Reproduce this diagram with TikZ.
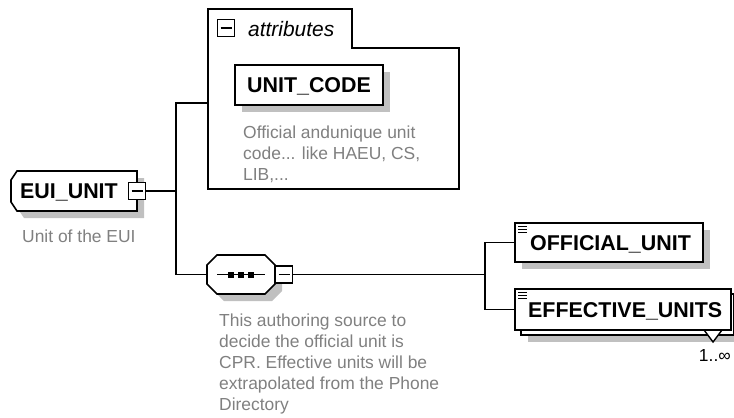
\documentclass[tikz,border=0pt]{standalone}
\usepackage{fontspec}
\setmainfont{Liberation Sans}
\usetikzlibrary{shadows}
\definecolor{shadegray}{HTML}{C0C0C0}
\definecolor{notegray}{HTML}{808080}
\begin{document}
\begin{tikzpicture}[x=1bp,y=-1bp,
  conn/.style={line width=1.6bp},
  outline/.style={draw, line width=1.6bp, fill=white},
  elembox/.style={draw, line width=1.6bp, fill=white, rectangle, inner sep=0pt},
  boxshadow/.style={drop shadow={shadow xshift=7bp, shadow yshift=-7bp, fill=shadegray, opacity=1}},
  namefont/.style={font=\bfseries\fontsize{21.5}{25}\selectfont},
  plaintext/.style={inner sep=0pt},
  notetext/.style={font=\fontsize{17.5}{21.2}\selectfont, text=notegray, align=left, inner sep=0pt},
  togglebox/.style={draw, line width=1.4bp, fill=white, minimum size=17bp, inner sep=0pt,
    path picture={\draw[line width=1.4bp] ([xshift=3bp]path picture bounding box.west) -- ([xshift=-3bp]path picture bounding box.east);}},
  listmark/.style={line width=1.2bp}
]
\useasboundingbox (0,0) rectangle (734,417);

% branch positions
\coordinate (trunk) at (176,0);
\coordinate (fork) at (485,0);

% ---- EUI_UNIT element ----
\fill[shadegray, shift={(7,7)}] (17,171) -- (137,171) -- (137,211) -- (17,211) -- (11,202) -- (11,180) -- cycle;
\draw[outline] (17,171) -- (137,171) -- (137,211) -- (17,211) -- (11,202) -- (11,180) -- cycle;
\node[plaintext, namefont, anchor=base west] (euiname) at (20,198.5) {EUI\_UNIT};
\node[togglebox] (euitog) at (137,191) {};
\node[notetext, anchor=base west] (euinote) at (22,242) {Unit of the EUI};

% ---- attributes group ----
\draw[outline] (208,48) -- (208,9) -- (352,9) -- (352,48) -- (459,48) -- (459,189) -- (208,189) -- cycle;
\coordinate (attrin) at (208,103);
\node[togglebox] (attrtog) at (226,28) {};
\node[plaintext, font=\itshape\fontsize{21}{25}\selectfont, anchor=base west] (attrtitle) at (248,36) {attributes};
\node[elembox, boxshadow, minimum width=148bp, minimum height=40bp] (unitcode) at (309,85) {};
\node[plaintext, namefont, anchor=base] (unitcodename) at (309,92.5) {UNIT\_CODE};
\node[notetext, anchor=north west] (unitcodenote) at (243,125.5)
  {Official andunique unit\\code... like HAEU, CS,\\LIB,...};

% ---- sequence compositor ----
\fill[shadegray, shift={(7,7)}] (217,255) -- (265,255) -- (275,265) -- (275,284) -- (265,294) -- (217,294) -- (207,284) -- (207,265) -- cycle;
\draw[outline] (217,255) -- (265,255) -- (275,265) -- (275,284) -- (265,294) -- (217,294) -- (207,284) -- (207,265) -- cycle;
\coordinate (seqin) at (207,274.5);
\draw[line width=1.5bp] (217,274.5) -- (265,274.5);
\foreach \cx in {231,241,251}
  \fill (\cx-3,271.5) rectangle ++(6,6);
\node[togglebox, anchor=west] (seqtog) at (275,274.5) {};
\node[notetext, anchor=north west] (seqnote) at (219,313.5)
  {This authoring source to\\decide the official unit is\\CPR. Effective units will be\\extrapolated from the Phone\\Directory};

% ---- OFFICIAL_UNIT ----
\node[elembox, boxshadow, minimum width=188bp, minimum height=39bp] (official) at (609,242.5) {};
\foreach \dy in {4,7,10}
  \draw[listmark] ([shift={(4,\dy)}]official.north west) -- ++(9,0);
\node[plaintext, namefont, anchor=base west] (officialname) at (530,250) {OFFICIAL\_UNIT};

% ---- EFFECTIVE_UNITS (repeating) ----
\node[elembox, boxshadow, minimum width=212.5bp, minimum height=41bp] (effback) at (627.25,314.5) {};
\draw[line width=1.4bp, fill=white] (704,330) -- (713,342) -- (722,330);
\node[elembox, minimum width=216bp, minimum height=41bp] (effective) at (623,309.5) {};
\foreach \dy in {4,7,10}
  \draw[listmark] ([shift={(4,\dy)}]effective.north west) -- ++(9,0);
\node[plaintext, namefont, anchor=base west] (effectivename) at (528,317) {EFFECTIVE\_UNITS};
\node[plaintext, font=\fontsize{17.5}{21}\selectfont, anchor=base east] (occurs) at (731,361) {1..∞};

% ---- connectors ----
\draw[conn] (euitog.east) -- (euitog.east -| trunk);
\draw[conn] (attrin) -- (attrin -| trunk) -- (trunk |- seqin) -- (seqin);
\draw[conn] (seqtog.east) -- (seqtog.east -| fork);
\draw[conn] (official.west) -- (official.west -| fork) -- (fork |- effective.west) -- (effective.west);
\end{tikzpicture}
\end{document}
